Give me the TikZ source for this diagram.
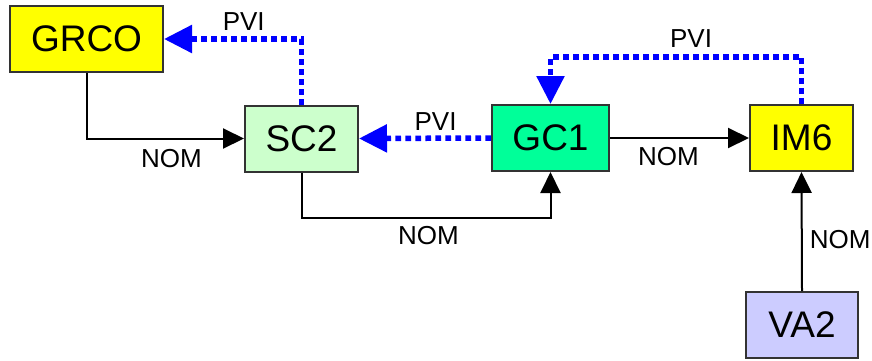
\documentclass[tikz,border=0pt]{standalone}
\usepackage{fontspec}
\setmainfont{Liberation Sans}
\usetikzlibrary{arrows.meta}
\definecolor{boxyellow}{RGB}{255,255,0}
\definecolor{boxmint}{RGB}{204,255,204}
\definecolor{boxgreen}{RGB}{0,255,153}
\definecolor{boxlilac}{RGB}{204,204,255}
\definecolor{pviblue}{RGB}{0,0,255}

\tikzset{
  unit/.style={draw=black!80, line width=2pt, minimum height=66pt, inner sep=0pt,
    font=\fontsize{37}{40}\selectfont},
  nom/.style={draw=black, line width=2pt, -{Triangle[length=21pt,width=20pt]}},
  pvi/.style={draw=pviblue, line width=5.5pt, dash pattern=on 5.7pt off 4.3pt,
    -{Triangle[length=28pt,width=27pt]}},
  tag/.style={inner sep=0pt, font=\fontsize{26}{28}\selectfont},
}

\begin{document}
\begin{tikzpicture}[x=1pt,y=-1pt]
\useasboundingbox (0,0) rectangle (872,360);

% units
\node[unit, fill=boxyellow, minimum width=153pt] (grco) at (86.5,39) {GRCO};
\node[unit, fill=boxmint, minimum width=113pt] (sc2) at (301.5,138.5) {SC2};
\node[unit, fill=boxgreen, minimum width=117pt] (gc1) at (550.5,138) {GC1};
\node[unit, fill=boxyellow, minimum width=103pt] (im6) at (801.5,138) {IM6};
\node[unit, fill=boxlilac, minimum width=112pt] (va2) at (802,325) {VA2};

\coordinate (pvitop) at (0,57);
\coordinate (nombot) at (0,218);

% NOM links
\draw[nom] (grco.south) |- node[tag, pos=0.77, below=10pt] {NOM} (sc2.west);
\draw[nom] (gc1.east) -- node[tag, pos=0.42, below=8pt] {NOM} (im6.west);
\draw[nom] (sc2.south) -- (sc2.south |- nombot) -| node[tag, pos=0.255, below=7pt] {NOM} (gc1.south);
\draw[nom] (va2.north) -- node[tag, pos=0.43, right=7pt] {NOM} (im6.south);

% PVI links
\draw[pvi] (sc2.north) |- node[tag, pos=0.71, above=6pt] {PVI} (grco.east);
\draw[pvi] (gc1.west) -- node[tag, pos=0.42, above=5pt] {PVI} (sc2.east);
\draw[pvi] (im6.north) -- (im6.north |- pvitop) -| node[tag, pos=0.22, above=7pt] {PVI} (gc1.north);

\end{tikzpicture}
\end{document}
